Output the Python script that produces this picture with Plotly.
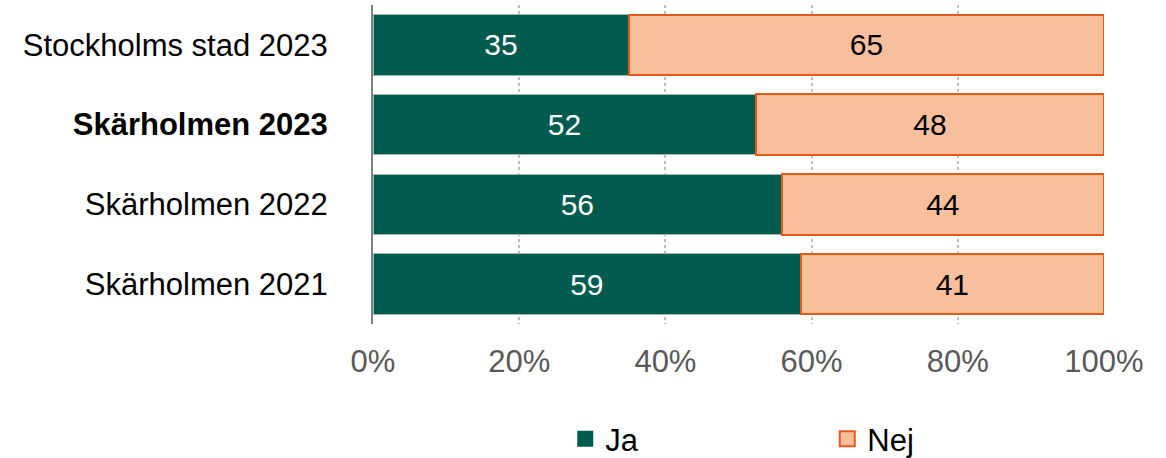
import plotly.graph_objects as go

categories = ["Stockholms stad 2023", "Skärholmen 2023", "Skärholmen 2022", "Skärholmen 2021"]
category_labels = ["Stockholms stad 2023", "<b>Skärholmen 2023</b>", "Skärholmen 2022", "Skärholmen 2021"]
ja_values = [35.0, 52.4, 55.9, 58.5]
nej_values = [65.0, 47.6, 44.1, 41.5]
ja_labels = ["35", "52", "56", "59"]
nej_labels = ["65", "48", "44", "41"]
x_ticks = [0, 20, 40, 60, 80, 100]
x_tick_labels = ["0%", "20%", "40%", "60%", "80%", "100%"]

GREEN = "#025B4F"
SALMON = "#F8BF9D"
ORANGE = "#E8581A"
FONT = "Liberation Sans, Arial, sans-serif"
FS = 31

fig = go.Figure()
fig.add_trace(go.Bar(
    y=categories, x=ja_values, orientation="h", name="Ja",
    marker=dict(color=GREEN, line=dict(color="#9FB3AF", width=1)),
    text=ja_labels, textposition="inside", insidetextanchor="middle",
    textfont=dict(color="white", size=30, family=FONT),
    constraintext="none", showlegend=False, hoverinfo="skip",
))
fig.add_trace(go.Bar(
    y=categories, x=nej_values, orientation="h", name="Nej",
    marker=dict(color=SALMON, line=dict(color=ORANGE, width=2)),
    text=nej_labels, textposition="inside", insidetextanchor="middle",
    textfont=dict(color="black", size=30, family=FONT),
    constraintext="none", showlegend=False, hoverinfo="skip",
))
# legend entries
fig.add_trace(go.Scatter(
    x=[None], y=[None], mode="markers", name="Ja",
    marker=dict(symbol="square", size=16, color=GREEN, line=dict(width=0)),
))
fig.add_trace(go.Scatter(
    x=[None], y=[None], mode="markers", name="Nej",
    marker=dict(symbol="square", size=15, color=SALMON, line=dict(color=ORANGE, width=2)),
))

fig.update_layout(
    width=1166, height=458,
    margin=dict(l=373, r=62, t=5, b=134),
    barmode="stack", bargap=0.24,
    plot_bgcolor="white", paper_bgcolor="white",
    font=dict(family=FONT, size=FS, color="black"),
    showlegend=True,
    legend=dict(
        orientation="h", x=0.263, xanchor="left",
        yref="container", y=1 - 439 / 458, yanchor="middle",
        traceorder="normal",
        font=dict(size=FS, color="black", family=FONT),
        entrywidth=217, entrywidthmode="pixels",
        itemwidth=30, bgcolor="rgba(0,0,0,0)",
    ),
)
fig.update_xaxes(
    range=[0, 100], tickvals=x_ticks, ticktext=x_tick_labels,
    showgrid=True, gridcolor="#BFBFBF", gridwidth=1.5, griddash="dot",
    zeroline=False, showline=False, automargin=False,
    tickfont=dict(size=FS, color="#595959", family=FONT),
    ticks="outside", ticklen=10, tickcolor="rgba(0,0,0,0)",
    fixedrange=True,
)
fig.update_yaxes(
    categoryorder="array", categoryarray=categories, autorange="reversed",
    tickvals=categories, ticktext=category_labels,
    showgrid=False, zeroline=False, automargin=False,
    showline=True, linecolor="#808080", linewidth=2,
    tickfont=dict(size=FS, color="black", family=FONT),
    ticks="outside", ticklen=37, tickcolor="rgba(0,0,0,0)",
    fixedrange=True,
)

fig.write_html("out.html", config={"displayModeBar": False},
               post_script="document.body.style.margin='0';")
